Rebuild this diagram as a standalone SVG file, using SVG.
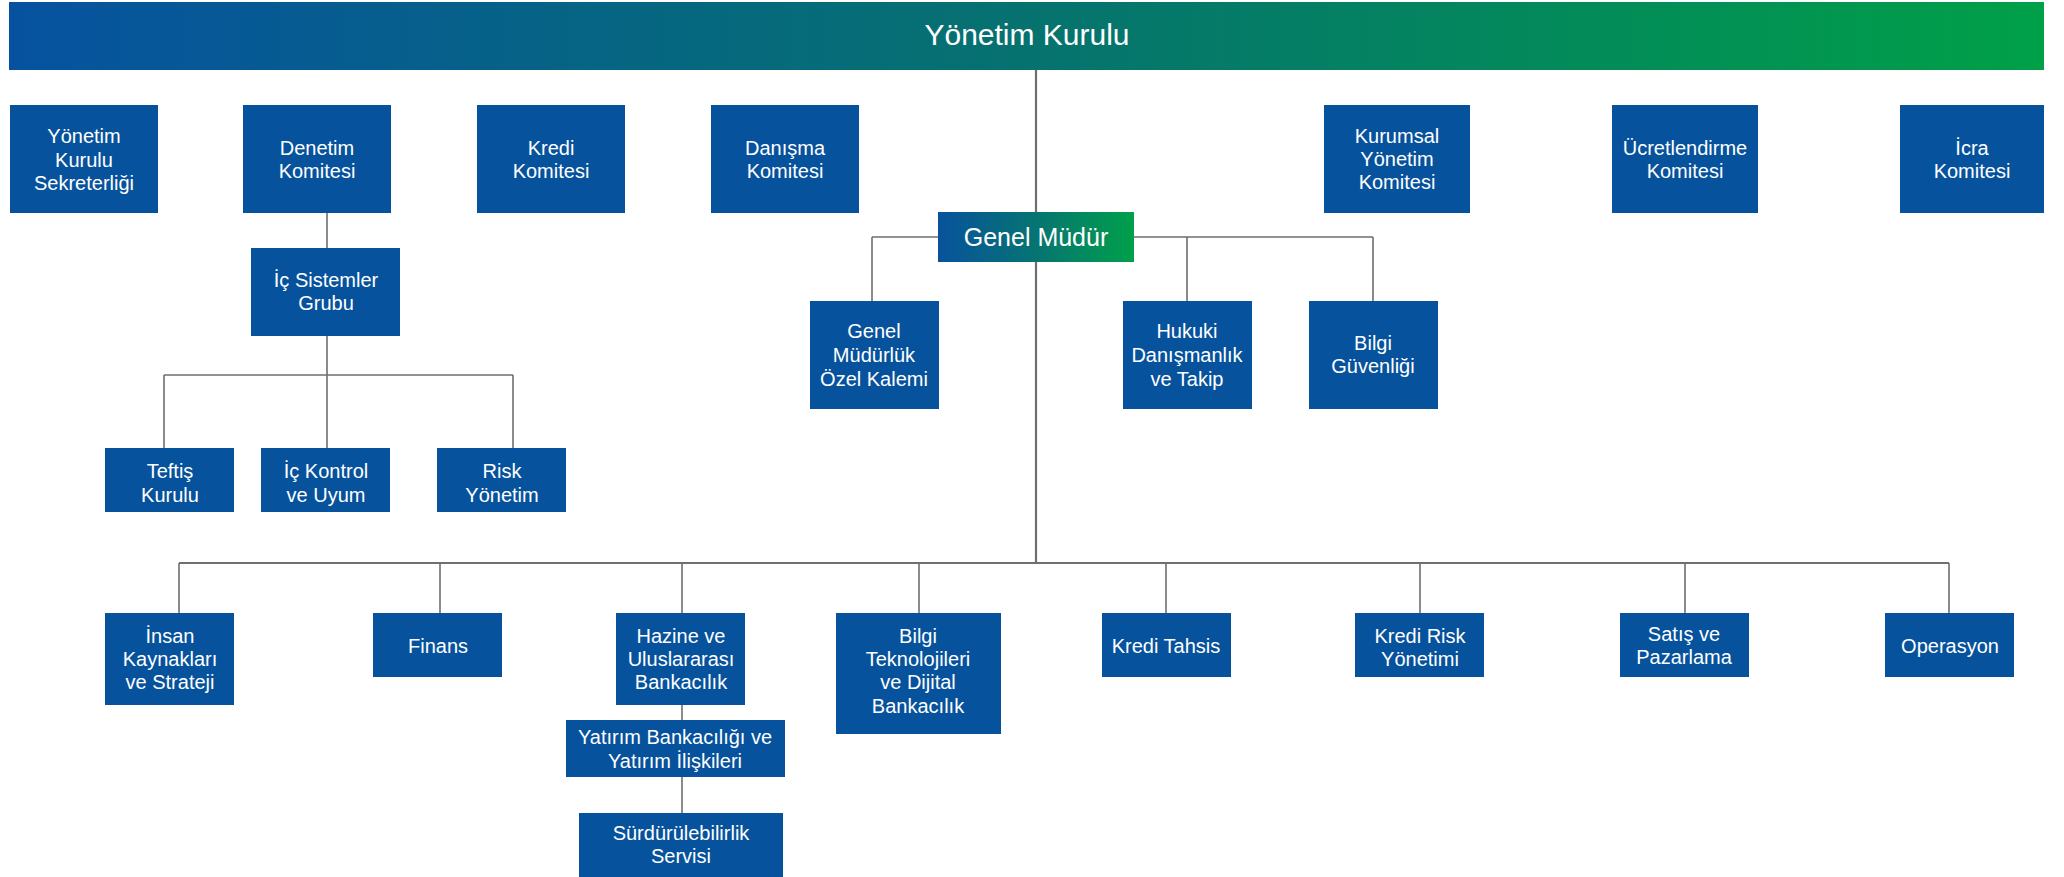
<svg xmlns="http://www.w3.org/2000/svg" width="2064" height="877" viewBox="0 0 2064 877">
<defs>
<linearGradient id="gBanner" x1="0" y1="0" x2="1" y2="0">
<stop offset="0" stop-color="#0652a0"/>
<stop offset="0.5" stop-color="#06726f"/>
<stop offset="1" stop-color="#00a048"/>
</linearGradient>
<linearGradient id="gGM" x1="0" y1="0" x2="1" y2="0">
<stop offset="0" stop-color="#08529c"/>
<stop offset="0.5" stop-color="#067472"/>
<stop offset="1" stop-color="#00a04a"/>
</linearGradient>
<style>
.box{fill:#06529c;}
.t{font-family:"Liberation Sans",Arial,sans-serif;font-size:20px;fill:#ffffff;text-anchor:middle;}
.ln{fill:none;stroke:#6f6f6f;stroke-width:1.6;}
.lnb{fill:none;stroke:#6f6f6f;stroke-width:2.2;}
</style>
</defs>
<rect width="2064" height="877" fill="#ffffff"/>

<g id="connectors">
<path class="lnb" d="M1036 70 V212 M1036 262 V563"/>
<path class="ln" d="M872 237 H1373 M872 237 V301 M1187 237 V301 M1373 237 V301"/>
<path class="ln" d="M327 213 V248 M327 336 V375 M164 375 H513 M164 375 V448 M327 375 V448 M513 375 V448"/>
<path class="lnb" d="M179 563 H1949"/>
<path class="ln" d="M179 563 V613 M440 563 V613 M682 563 V613 M919 563 V613 M1166 563 V613 M1420 563 V613 M1685 563 V613 M1949 563 V613"/>
<path class="ln" d="M682 705 V720 M682 777 V813"/>
</g>

<g id="yonetim-kurulu">
<rect x="9" y="2" width="2035" height="68" fill="url(#gBanner)"/>
<text class="t" x="1027" y="45" style="font-size:30px">Yönetim Kurulu</text>
</g>

<g id="yk-sekreterligi">
<rect class="box" x="10" y="105" width="148" height="108"/>
<text class="t" x="84" y="143">Yönetim</text>
<text class="t" x="84" y="167">Kurulu</text>
<text class="t" x="84" y="190">Sekreterliği</text>
</g>
<g id="denetim-komitesi">
<rect class="box" x="243" y="105" width="148" height="108"/>
<text class="t" x="317" y="155">Denetim</text>
<text class="t" x="317" y="178">Komitesi</text>
</g>
<g id="kredi-komitesi">
<rect class="box" x="477" y="105" width="148" height="108"/>
<text class="t" x="551" y="155">Kredi</text>
<text class="t" x="551" y="178">Komitesi</text>
</g>
<g id="danisma-komitesi">
<rect class="box" x="711" y="105" width="148" height="108"/>
<text class="t" x="785" y="155">Danışma</text>
<text class="t" x="785" y="178">Komitesi</text>
</g>
<g id="kurumsal-yonetim-komitesi">
<rect class="box" x="1324" y="105" width="146" height="108"/>
<text class="t" x="1397" y="143">Kurumsal</text>
<text class="t" x="1397" y="166">Yönetim</text>
<text class="t" x="1397" y="189">Komitesi</text>
</g>
<g id="ucretlendirme-komitesi">
<rect class="box" x="1612" y="105" width="146" height="108"/>
<text class="t" x="1685" y="155">Ücretlendirme</text>
<text class="t" x="1685" y="178">Komitesi</text>
</g>
<g id="icra-komitesi">
<rect class="box" x="1900" y="105" width="144" height="108"/>
<text class="t" x="1972" y="155">İcra</text>
<text class="t" x="1972" y="178">Komitesi</text>
</g>

<g id="ic-sistemler-grubu">
<rect class="box" x="251" y="248" width="149" height="88"/>
<text class="t" x="326" y="287">İç Sistemler</text>
<text class="t" x="326" y="310">Grubu</text>
</g>
<g id="teftis-kurulu">
<rect class="box" x="105" y="448" width="129" height="64"/>
<text class="t" x="170" y="478">Teftiş</text>
<text class="t" x="170" y="502">Kurulu</text>
</g>
<g id="ic-kontrol">
<rect class="box" x="261" y="448" width="129" height="64"/>
<text class="t" x="326" y="478">İç Kontrol</text>
<text class="t" x="326" y="502">ve Uyum</text>
</g>
<g id="risk-yonetim">
<rect class="box" x="437" y="448" width="129" height="64"/>
<text class="t" x="502" y="478">Risk</text>
<text class="t" x="502" y="502">Yönetim</text>
</g>

<g id="genel-mudur">
<rect x="938" y="212" width="196" height="50" fill="url(#gGM)"/>
<text class="t" x="1036" y="246" style="font-size:25px">Genel Müdür</text>
</g>
<g id="gm-ozel-kalemi">
<rect class="box" x="810" y="301" width="129" height="108"/>
<text class="t" x="874" y="338">Genel</text>
<text class="t" x="874" y="362">Müdürlük</text>
<text class="t" x="874" y="386">Özel Kalemi</text>
</g>
<g id="hukuki">
<rect class="box" x="1123" y="301" width="129" height="108"/>
<text class="t" x="1187" y="338">Hukuki</text>
<text class="t" x="1187" y="362">Danışmanlık</text>
<text class="t" x="1187" y="386">ve Takip</text>
</g>
<g id="bilgi-guvenligi">
<rect class="box" x="1309" y="301" width="129" height="108"/>
<text class="t" x="1373" y="350">Bilgi</text>
<text class="t" x="1373" y="373">Güvenliği</text>
</g>

<g id="insan-kaynaklari">
<rect class="box" x="105" y="613" width="129" height="92"/>
<text class="t" x="170" y="643">İnsan</text>
<text class="t" x="170" y="666">Kaynakları</text>
<text class="t" x="170" y="689">ve Strateji</text>
</g>
<g id="finans">
<rect class="box" x="373" y="613" width="129" height="64"/>
<text class="t" x="438" y="653">Finans</text>
</g>
<g id="hazine">
<rect class="box" x="616" y="613" width="129" height="92"/>
<text class="t" x="681" y="643">Hazine ve</text>
<text class="t" x="681" y="666">Uluslararası</text>
<text class="t" x="681" y="689">Bankacılık</text>
</g>
<g id="yatirim-bankaciligi">
<rect class="box" x="566" y="720" width="219" height="57"/>
<text class="t" x="675" y="744">Yatırım Bankacılığı ve</text>
<text class="t" x="675" y="768">Yatırım İlişkileri</text>
</g>
<g id="surdurulebilirlik">
<rect class="box" x="579" y="813" width="204" height="64"/>
<text class="t" x="681" y="840">Sürdürülebilirlik</text>
<text class="t" x="681" y="863">Servisi</text>
</g>
<g id="bilgi-teknolojileri">
<rect class="box" x="836" y="613" width="165" height="121"/>
<text class="t" x="918" y="643">Bilgi</text>
<text class="t" x="918" y="666">Teknolojileri</text>
<text class="t" x="918" y="689">ve Dijital</text>
<text class="t" x="918" y="713">Bankacılık</text>
</g>
<g id="kredi-tahsis">
<rect class="box" x="1102" y="613" width="129" height="64"/>
<text class="t" x="1166" y="653">Kredi Tahsis</text>
</g>
<g id="kredi-risk-yonetimi">
<rect class="box" x="1355" y="613" width="129" height="64"/>
<text class="t" x="1420" y="643">Kredi Risk</text>
<text class="t" x="1420" y="666">Yönetimi</text>
</g>
<g id="satis-pazarlama">
<rect class="box" x="1620" y="613" width="129" height="64"/>
<text class="t" x="1684" y="641">Satış ve</text>
<text class="t" x="1684" y="664">Pazarlama</text>
</g>
<g id="operasyon">
<rect class="box" x="1885" y="613" width="129" height="64"/>
<text class="t" x="1950" y="653">Operasyon</text>
</g>
</svg>
